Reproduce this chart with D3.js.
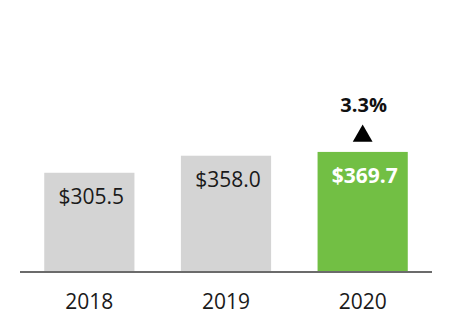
<!DOCTYPE html>
<html>
<head>
<meta charset="utf-8">
<script src="https://cdn.jsdelivr.net/npm/d3@7"></script>
<style>
  html, body { margin: 0; padding: 0; background: #fff; }
  svg { display: block; font-family: "Open Sans", "Noto Sans", sans-serif; }
</style>
</head>
<body>
<svg id="chart" width="452" height="332"></svg>
<script>
// Annual values (in $) by year
const years = ["2018", "2019", "2020"];
const values = [305.5, 358.0, 369.7];
const valueLabels = ["$305.5", "$358.0", "$369.7"];
const changeLabel = "3.3%";

const width = 452, height = 332;
const baseline = 272;

const svg = d3.select("#chart");

const x = d3.scaleBand()
  .domain(years)
  .range([21, 431])
  .paddingInner(0.34)
  .paddingOuter(0.17);

const y = d3.scaleLinear()
  .domain([0, 800])
  .range([baseline, baseline - 800 * 0.3248]);

const last = years[years.length - 1];
const barColor = d => d === last ? "#72bf44" : "#d4d4d4";

// bars
svg.selectAll("rect.bar")
  .data(years)
  .join("rect")
  .attr("class", "bar")
  .attr("x", d => x(d))
  .attr("width", x.bandwidth())
  .attr("y", (d, i) => y(values[i]))
  .attr("height", (d, i) => y(0) - y(values[i]))
  .attr("fill", barColor);

// value labels inside the top of each bar
svg.selectAll("text.val")
  .data(years)
  .join("text")
  .attr("class", "val")
  .attr("x", d => x(d) + x.bandwidth() / 2 + 2)
  .attr("y", (d, i) => y(values[i]) + 31)
  .attr("text-anchor", "middle")
  .attr("font-size", 21)
  .attr("font-weight", d => d === last ? 700 : 400)
  .attr("fill", d => d === last ? "#ffffff" : "#1a1a1a")
  .text((d, i) => valueLabels[i]);

// baseline axis
const axis = d3.axisBottom(x).tickSize(0).tickPadding(22);
const g = svg.append("g")
  .attr("transform", `translate(0,${baseline})`)
  .call(axis);
g.select(".domain")
  .attr("d", "M20,0H432")
  .attr("stroke", "#6b6b6b")
  .attr("stroke-width", 2);
g.selectAll(".tick text")
  .attr("font-family", "\"Open Sans\", \"Noto Sans\", sans-serif")
  .attr("font-size", 21)
  .attr("fill", "#1a1a1a")
  .attr("dy", "0.71em");

// growth marker over the latest bar
const cx = x(last) + x.bandwidth() / 2;
const topY = y(values[values.length - 1]);
svg.append("path")
  .attr("d", d3.symbol().type(d3.symbolTriangle).size(170)())
  .attr("transform", `translate(${cx},${topY - 16})`)
  .attr("fill", "#000");
svg.append("text")
  .attr("x", cx + 1)
  .attr("y", topY - 40)
  .attr("text-anchor", "middle")
  .attr("font-size", 20)
  .attr("font-weight", 700)
  .attr("fill", "#111")
  .text(changeLabel);
</script>
</body>
</html>
